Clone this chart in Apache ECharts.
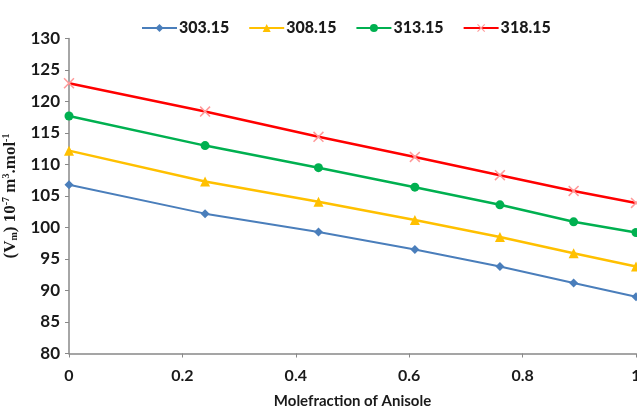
<!DOCTYPE html>
<html>
<head>
<meta charset="utf-8">
<script src="https://cdn.jsdelivr.net/npm/echarts@6/dist/echarts.min.js"></script>
<style>
  html, body { margin: 0; padding: 0; background: #fff; }
  #chart { width: 637px; height: 406px; }
</style>
</head>
<body>
<div id="chart"></div>
<script>
// Mole fraction of anisole
const moleFraction = [0, 0.24, 0.44, 0.61, 0.76, 0.89, 1.0];
// Molar volume at each temperature (K)
const seriesNames = ['303.15', '308.15', '313.15', '318.15'];
const v303 = [106.8, 102.2, 99.3, 96.5, 93.8, 91.2, 89.0];
const v308 = [112.2, 107.3, 104.1, 101.2, 98.5, 95.9, 93.8];
const v313 = [117.7, 113.0, 109.5, 106.4, 103.6, 100.9, 99.2];
const v318 = [122.9, 118.4, 114.4, 111.2, 108.3, 105.8, 103.9];

const crossPath = 'path://M0,1L1,0L5,4L9,0L10,1L6,5L10,9L9,10L5,6L1,10L0,9L4,5Z';

function pairs(vals) {
  return moleFraction.map((x, i) => [x, vals[i]]);
}

const chart = echarts.init(document.getElementById('chart'));
const labelFont = { fontFamily: 'Lato, "Open Sans", sans-serif', fontWeight: 'bold', fontSize: 15, color: '#1a1a1a' };

chart.setOption({
  animation: false,
  backgroundColor: '#fff',
  grid: { left: 69, right: 1, top: 38.5, bottom: 52.5, containLabel: false, outerBoundsMode: 'none' },
  legend: {
    top: 15,
    left: 136,
    itemWidth: 35,
    itemHeight: 10,
    itemGap: 19,
    textStyle: { ...labelFont, fontSize: 16, fontWeight: 900, padding: [0, 0, 0, -3] },
    data: seriesNames
  },
  xAxis: {
    type: 'value',
    min: 0, max: 1, interval: 0.2,
    axisLine: { lineStyle: { color: '#888', width: 1.5 } },
    axisTick: { show: true, length: 4, lineStyle: { color: '#888' } },
    splitLine: { show: false },
    axisLabel: {
      ...labelFont, fontSize: 16, margin: 14,
      formatter: v => (v === 0 ? '0' : v === 1 ? '1' : v.toFixed(1))
    },
    name: 'Molefraction of Anisole',
    nameLocation: 'middle',
    nameGap: 40,
    nameTextStyle: { ...labelFont, fontSize: 15 }
  },
  yAxis: {
    type: 'value',
    min: 80, max: 130, interval: 5,
    axisLine: { show: true, lineStyle: { color: '#888', width: 1.5 } },
    axisTick: { show: true, length: 4, lineStyle: { color: '#888' } },
    splitLine: { show: false },
    axisLabel: { ...labelFont, fontSize: 17, margin: 9 },
    name: '{a|(V}{s|m}{a|) 10}{p|-7}{a| m}{p|3}{a|.mol}{p|-1}',
    nameLocation: 'middle',
    nameRotate: 90,
    nameGap: 48,
    nameTextStyle: {
      rich: {
        a: { fontFamily: '"Liberation Serif", "Times New Roman", serif', fontWeight: 'bold', fontSize: 17, color: '#1a1a1a' },
        s: { fontFamily: '"Liberation Serif", serif', fontWeight: 'bold', fontSize: 10, color: '#1a1a1a', padding: [8, 0, 0, 0] },
        p: { fontFamily: '"Liberation Serif", serif', fontWeight: 'bold', fontSize: 10, color: '#1a1a1a', padding: [0, 0, 8, 0] }
      }
    }
  },
  series: [
    {
      name: seriesNames[0], type: 'line', data: pairs(v303),
      symbol: 'diamond', symbolSize: 9,
      lineStyle: { color: '#4a7ebb', width: 2 },
      itemStyle: { color: '#4a7ebb' }
    },
    {
      name: seriesNames[1], type: 'line', data: pairs(v308),
      symbol: 'triangle', symbolSize: 10,
      lineStyle: { color: '#ffc000', width: 2.5 },
      itemStyle: { color: '#ffc000' }
    },
    {
      name: seriesNames[2], type: 'line', data: pairs(v313),
      symbol: 'circle', symbolSize: 9,
      lineStyle: { color: '#00b050', width: 2.5 },
      itemStyle: { color: '#00b050' }
    },
    {
      name: seriesNames[3], type: 'line', data: pairs(v318),
      symbol: crossPath, symbolSize: 11,
      lineStyle: { color: '#ff0000', width: 2.5 },
      itemStyle: { color: '#ff9a9a' }
    }
  ]
});
</script>
</body>
</html>
